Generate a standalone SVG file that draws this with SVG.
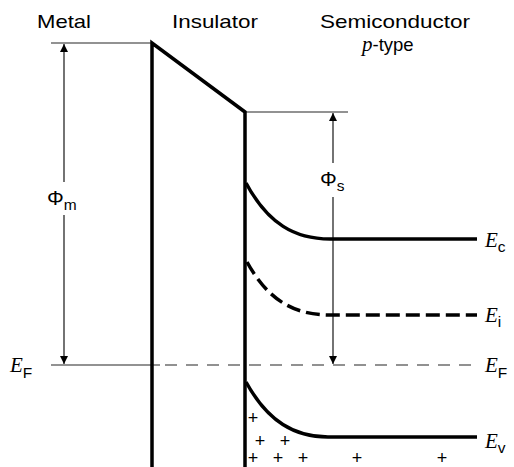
<svg xmlns="http://www.w3.org/2000/svg" width="514" height="467" viewBox="0 0 514 467">
<style>
.lbl{font-family:"Liberation Sans",Arial,sans-serif;font-size:18.5px;fill:#000}
.E{font-family:"Liberation Serif","Times New Roman",serif;font-style:italic;font-size:21px;fill:#000}
.sub{font-family:"Liberation Sans",Arial,sans-serif;font-size:15.5px;fill:#000}
.phi{font-family:"Liberation Sans",Arial,sans-serif;font-size:21px;fill:#000}
.plus{font-family:"Liberation Sans",Arial,sans-serif;font-size:18px;fill:#000;text-anchor:middle}
.gray{stroke:#6e6e6e;stroke-width:1.6;fill:none}
.thick{stroke:#000;stroke-width:3.5;fill:none}
.arr{stroke:#000;stroke-width:1.1;fill:none}
</style>
<defs>
<marker id="ah" viewBox="0 0 8 14" refX="8" refY="7" markerWidth="8" markerHeight="14" orient="auto" markerUnits="userSpaceOnUse">
<path d="M0,3 L8,7 L0,11 z" fill="#000"/>
</marker>
</defs>
<rect width="514" height="467" fill="#fff"/>
<g id="labels">
<text class="lbl" x="37" y="28" textLength="54" lengthAdjust="spacingAndGlyphs">Metal</text>
<text class="lbl" x="172" y="28" textLength="86" lengthAdjust="spacingAndGlyphs">Insulator</text>
<text class="lbl" x="320" y="28" textLength="150" lengthAdjust="spacingAndGlyphs">Semiconductor</text>
<text x="362" y="51"><tspan class="E" font-size="21">p</tspan><tspan class="lbl" font-size="20.5">-type</tspan></text>
</g>
<g id="levels">
<line class="gray" x1="51" y1="43" x2="152" y2="43"/>
<line class="gray" x1="245" y1="112" x2="348" y2="112"/>
<line class="gray" x1="51" y1="365" x2="160" y2="365"/>
<line class="gray" x1="165" y1="365" x2="478" y2="365" stroke-dasharray="12 9"/>
</g>
<g id="insulator">
<path class="thick" d="M152,467 L152,43 L245,112 L245,467" stroke-width="3.2" stroke-linejoin="miter"/>
</g>
<g id="bands">
<path class="thick" d="M246,183 C268,224 295,239 330,239 L477,239"/>
<path class="thick" d="M247,262 C269,302 296,315 330,315 L477,315" stroke-dasharray="14 6"/>
<path class="thick" d="M246,382 C268,422 295,437 328,437 L477,437"/>
</g>
<g id="connectors">
<line class="arr" x1="64" y1="182" x2="64" y2="44" marker-end="url(#ah)"/>
<line class="arr" x1="64" y1="215" x2="64" y2="364" marker-end="url(#ah)"/>
<line class="arr" x1="333" y1="163" x2="333" y2="113" marker-end="url(#ah)"/>
<line class="arr" x1="333" y1="197" x2="333" y2="364" marker-end="url(#ah)"/>
</g>
<g id="phi-labels">
<text x="47" y="205"><tspan class="phi">Φ</tspan><tspan class="sub" dy="5">m</tspan></text>
<text x="320" y="186"><tspan class="phi">Φ</tspan><tspan class="sub" dy="5">s</tspan></text>
</g>
<g id="energy-labels">
<text x="485" y="247"><tspan class="E">E</tspan><tspan class="sub" dy="5">c</tspan></text>
<text x="485" y="322"><tspan class="E">E</tspan><tspan class="sub" dy="5">i</tspan></text>
<text x="485" y="372"><tspan class="E">E</tspan><tspan class="sub" dy="6">F</tspan></text>
<text x="10" y="372"><tspan class="E">E</tspan><tspan class="sub" dy="6">F</tspan></text>
<text x="485" y="448"><tspan class="E">E</tspan><tspan class="sub" dy="5">v</tspan></text>
</g>
<g id="holes">
<text class="plus" x="253" y="424">+</text>
<text class="plus" x="260" y="447">+</text>
<text class="plus" x="285" y="447">+</text>
<text class="plus" x="253" y="464">+</text>
<text class="plus" x="278" y="464">+</text>
<text class="plus" x="303" y="464">+</text>
<text class="plus" x="357" y="464">+</text>
<text class="plus" x="442" y="464">+</text>
</g>
</svg>
